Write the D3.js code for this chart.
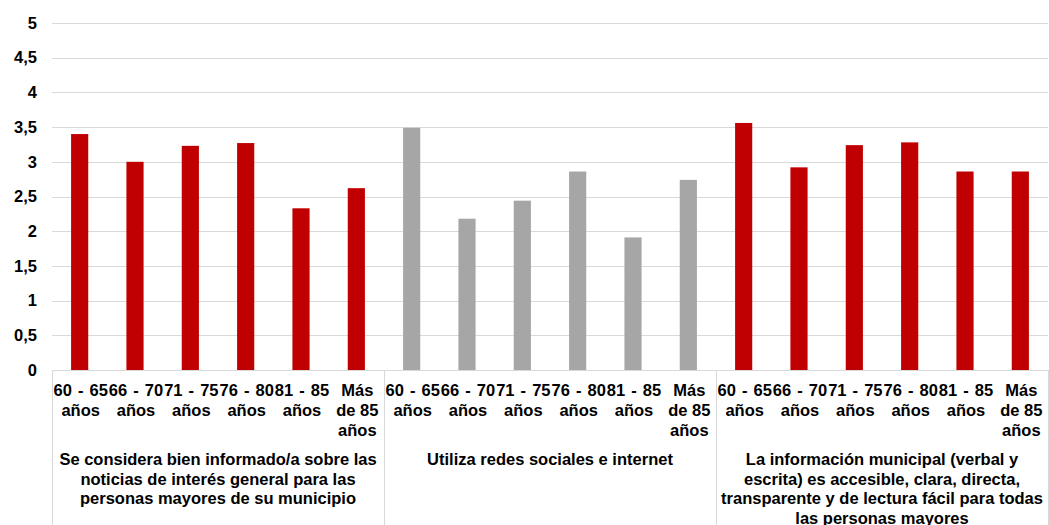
<!DOCTYPE html>
<html>
<head>
<meta charset="utf-8">
<script src="https://cdn.jsdelivr.net/npm/d3@7"></script>
<style>
html,body{margin:0;padding:0;background:#fff;}
svg{display:block;}
text{font-family:Arial,"Liberation Sans",sans-serif;font-weight:bold;fill:#000;}
</style>
</head>
<body>
<svg id="chart" width="1049" height="525"></svg>
<script>
const groups = ["g1","g2","g3"];
const groupLabels = [
  ["Se considera bien informado/a sobre las","noticias de interés general para las","personas mayores de su municipio"],
  ["Utiliza redes sociales e internet"],
  ["La información municipal (verbal y","escrita) es accesible, clara, directa,","transparente y de lectura fácil para todas","las personas mayores"]
];
const ageLabels = [["60 - 65","años"],["66 - 70","años"],["71 - 75","años"],["76 - 80","años"],["81 - 85","años"],["Más","de 85","años"]];
const values1 = [3.40, 3.00, 3.23, 3.27, 2.33, 2.62];
const values2 = [3.49, 2.18, 2.44, 2.86, 1.91, 2.74];
const values3 = [3.56, 2.92, 3.24, 3.28, 2.86, 2.86];
const groupColors = ["#C00000","#A6A6A6","#C00000"];
const yTicks = [0,0.5,1,1.5,2,2.5,3,3.5,4,4.5,5];

const allValues = [values1, values2, values3];
const data = [];
groups.forEach((g,gi)=>{
  ageLabels.forEach((a,ai)=>{
    data.push({key:g+"_"+ai, g:gi, a:ai, v:allValues[gi][ai]});
  });
});

const svg = d3.select("#chart");
const mLeft = 52, mRight = 1048, mTop = 23, mBottom = 370;
const x = d3.scaleBand().domain(data.map(d=>d.key)).range([mLeft,mRight]).paddingInner(0.69).paddingOuter(0.345);
const y = d3.scaleLinear().domain([0,5]).range([mBottom,mTop]);

// gridlines
svg.append("g").selectAll("line").data(yTicks.filter(t=>t>0)).join("line")
  .attr("x1",mLeft).attr("x2",mRight)
  .attr("y1",d=>Math.round(y(d))+0.5).attr("y2",d=>Math.round(y(d))+0.5)
  .attr("stroke","#D9D9D9").attr("stroke-width",1);

// y axis labels
const yAxis = d3.axisLeft(y).tickValues(yTicks).tickSize(0).tickPadding(15)
  .tickFormat(d=>String(d).replace(".",","));
const ya = svg.append("g").attr("transform",`translate(${mLeft},0)`).call(yAxis);
ya.select(".domain").remove();
ya.attr("font-family",null).attr("font-size",null);
ya.selectAll("text").attr("font-size","16.5px").attr("fill","#000");

// bars
svg.append("g").selectAll("rect").data(data).join("rect")
  .attr("x",d=>x(d.key)).attr("width",x.bandwidth())
  .attr("y",d=>y(d.v)).attr("height",d=>y(0)-y(d.v))
  .attr("fill",d=>groupColors[d.g]);

// axis line and group boxes
const groupW = (mRight-mLeft)/groups.length;
svg.append("line").attr("x1",mLeft).attr("x2",mRight).attr("y1",mBottom+0.5).attr("y2",mBottom+0.5)
  .attr("stroke","#D9D9D9");
const bounds = d3.range(groups.length+1).map(i=>mLeft+i*groupW);
svg.append("g").selectAll("line").data(bounds).join("line")
  .attr("x1",d=>Math.round(d)+0.5).attr("x2",d=>Math.round(d)+0.5)
  .attr("y1",mBottom).attr("y2",525).attr("stroke","#D9D9D9");

// category labels
const cat = svg.append("g").selectAll("text").data(data).join("text")
  .attr("text-anchor","middle").attr("font-size","16.5px")
  .attr("transform",d=>`translate(${x(d.key)+x.bandwidth()/2+1},0)`);
cat.selectAll("tspan").data(d=>ageLabels[d.a]).join("tspan")
  .attr("x",0).attr("y",(d,i)=>396+i*20)
  .attr("word-spacing",d=>d.includes(" - ")?"1.5px":null)
  .text(d=>d);

// group labels
const gl = svg.append("g").selectAll("text").data(groupLabels).join("text")
  .attr("text-anchor","middle").attr("font-size","16.5px")
  .attr("transform",(d,i)=>`translate(${mLeft+(i+0.5)*groupW},0)`);
gl.selectAll("tspan").data(d=>d).join("tspan")
  .attr("x",0).attr("y",(d,i)=>465+i*19.5).text(d=>d);
</script>
</body>
</html>
